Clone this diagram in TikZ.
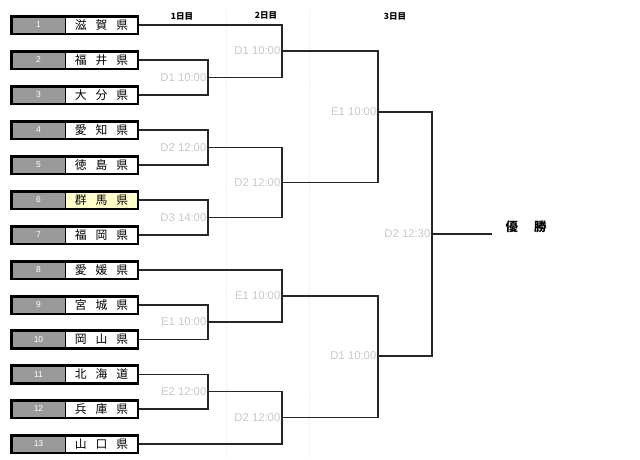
\documentclass[tikz,border=0pt]{standalone}
\usepackage{fontspec}
\setmainfont{Liberation Sans}
\newfontfamily\cjk{Noto Sans CJK JP}
\usetikzlibrary{positioning}
\definecolor{lblgray}{HTML}{C8C8C8}
\definecolor{boxgray}{HTML}{9A9A9A}
\definecolor{hilite}{HTML}{FFFFC8}
\definecolor{guide}{HTML}{E6E6E6}
\tikzset{
  numbox/.style={draw=black, line width=0.6pt, fill=boxgray, minimum width=53pt, minimum height=17pt, inner sep=0pt, text=white, font=\fontsize{8.5}{8.5}\selectfont},
  namebox/.style={draw=black, line width=0.6pt, fill=white, minimum width=72pt, minimum height=17pt, inner sep=0pt, font=\cjk\fontsize{11.8}{11.8}\selectfont},
  frame/.style={draw=black, line width=2.6pt},
  wire/.style={draw=black!85, line width=1.2pt},
  lbl/.style={text=lblgray, anchor=east, inner sep=1.5pt, font=\fontsize{11.3}{11.3}\selectfont},
  dayhead/.style={font=\cjk\bfseries\fontsize{8.5}{8.5}\selectfont},
  guideline/.style={draw=guide, line width=0.6pt, dotted},
}
\newcommand{\nm}[3]{#1\hspace{9pt}#2\hspace{9pt}#3}
\begin{document}
\begin{tikzpicture}[x=1pt,y=-1pt]
\useasboundingbox (0,0) rectangle (640,459);
% guides
\draw[guideline] (226,12) -- (226,459);
\draw[guideline] (309,12) -- (309,459);
% headers
\node[dayhead] (h1) at (182,16) {1日目};
\node[dayhead] (h2) at (266,15) {2日目};
\node[dayhead] (h3) at (395,16) {3日目};
% teams
\newcommand{\team}[4]{%
  \node[numbox] (g#1) at (38.5,#2) {#1};
  \node[namebox, fill=#4] (t#1) at (101.5,#2) {#3};
  \draw[frame] (g#1.north west) rectangle (t#1.south east);
}
\team{1}{25}{\nm{滋}{賀}{県}}{white}
\team{2}{60}{\nm{福}{井}{県}}{white}
\team{3}{95}{\nm{大}{分}{県}}{white}
\team{4}{130}{\nm{愛}{知}{県}}{white}
\team{5}{165}{\nm{徳}{島}{県}}{white}
\team{6}{200}{\nm{群}{馬}{県}}{hilite}
\team{7}{235}{\nm{福}{岡}{県}}{white}
\team{8}{270}{\nm{愛}{媛}{県}}{white}
\team{9}{305}{\nm{宮}{城}{県}}{white}
\team{10}{339.5}{\nm{岡}{山}{県}}{white}
\team{11}{374.5}{\nm{北}{海}{道}}{white}
\team{12}{409}{\nm{兵}{庫}{県}}{white}
\team{13}{444}{\nm{山}{口}{県}}{white}
% junctions
\coordinate (m1) at (208,77.5);
\coordinate (m2) at (208,147.5);
\coordinate (m3) at (208,217.5);
\coordinate (m4) at (208,322);
\coordinate (m5) at (208,391.5);
\coordinate (n1) at (282,51);
\coordinate (n2) at (282,182.5);
\coordinate (n3) at (282,296);
\coordinate (n4) at (282,417.5);
\coordinate (p1) at (378,112);
\coordinate (p2) at (378,356);
\coordinate (f) at (432,234);
\coordinate (w) at (492,234);
% round 1
\draw[wire] ([xshift=1.3pt]t2.east) -| (m1) |- ([xshift=1.3pt]t3.east);
\draw[wire] ([xshift=1.3pt]t4.east) -| (m2) |- ([xshift=1.3pt]t5.east);
\draw[wire] ([xshift=1.3pt]t6.east) -| (m3) |- ([xshift=1.3pt]t7.east);
\draw[wire] ([xshift=1.3pt]t9.east) -| (m4) |- ([xshift=1.3pt]t10.east);
\draw[wire] ([xshift=1.3pt]t11.east) -| (m5) |- ([xshift=1.3pt]t12.east);
% round 2
\draw[wire] ([xshift=1.3pt]t1.east) -| (n1) |- (m1);
\draw[wire] (m2) -| (n2) |- (m3);
\draw[wire] ([xshift=1.3pt]t8.east) -| (n3) |- (m4);
\draw[wire] (m5) -| (n4) |- ([xshift=1.3pt]t13.east);
% round 3
\draw[wire] (n1) -| (p1) |- (n2);
\draw[wire] (n3) -| (p2) |- (n4);
% final
\draw[wire] (p1) -| (f) |- (p2);
\draw[wire] (f) -- (w);
% labels
\node[lbl] (lm1) at (m1) {D1 10:00};
\node[lbl] (lm2) at (m2) {D2 12:00};
\node[lbl] (lm3) at (m3) {D3 14:00};
\node[lbl] (lm4) at (m4) {E1 10:00};
\node[lbl] (lm5) at (m5) {E2 12:00};
\node[lbl] (ln1) at (n1) {D1 10:00};
\node[lbl] (ln2) at (n2) {D2 12:00};
\node[lbl] (ln3) at (n3) {E1 10:00};
\node[lbl] (ln4) at (n4) {D2 12:00};
\node[lbl] (lp1) at (p1) {E1 10:00};
\node[lbl] (lp2) at (p2) {D1 10:00};
\node[lbl] (lf) at (f) {D2 12:30};
\node[font=\cjk\bfseries\fontsize{12.5}{12.5}\selectfont, anchor=west] (win) at (502,227) {優\hspace{16pt}勝};
\end{tikzpicture}
\end{document}
